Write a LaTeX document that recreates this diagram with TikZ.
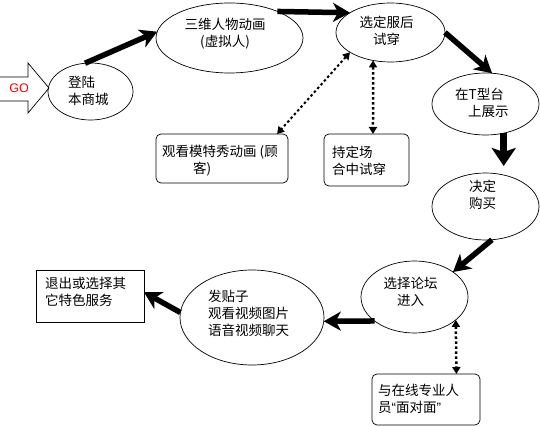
\documentclass[tikz,border=0pt]{standalone}
\usepackage{fontspec}
\newfontfamily\cjk{Noto Sans CJK SC}
\newfontfamily\arialf{Liberation Sans}
\usetikzlibrary{arrows.meta,shapes.geometric,calc}
\begin{document}
\begin{tikzpicture}[x=1pt,y=-1pt,
 ell/.style={draw,ellipse,inner sep=0pt,outer sep=0pt,line width=0.7pt},
 rbox/.style={draw,rounded corners=5pt,inner sep=0pt,outer sep=0pt,line width=0.7pt},
 sbox/.style={draw,inner sep=0pt,outer sep=0pt,line width=0.7pt},
 txt/.style={inner sep=0pt,font=\cjk\fontsize{13.5}{17}\selectfont},
 big/.style={line width=5.5pt,-{Stealth[length=17pt,width=19pt,inset=5pt]}},
 dotarrow/.style={line width=2.5pt,dash pattern=on 2.5pt off 2.5pt,{Triangle[length=7pt,width=8pt]}-{Triangle[length=7pt,width=8pt]}}
]
\useasboundingbox (0,0) rectangle (540,427);
\fill[white] (0,0) rectangle (540,427);

% GO block arrow
\draw[line width=0.7pt] (0,77) -- (28,77) -- (28,63) -- (49,88) -- (28,113) -- (28,101) -- (0,101);
\node[inner sep=0pt,font=\arialf\fontsize{12.5}{14}\selectfont,text=red] (go) at (19,88) {GO};

% ellipses
\node[ell,minimum width=85pt,minimum height=57pt] (e1) at (90.5,91.5) {};
\node[ell,minimum width=147pt,minimum height=70pt] (e2) at (229.5,38) {};
\node[ell,minimum width=109pt,minimum height=59pt] (e3) at (390.5,32.5) {};
\node[ell,minimum width=107pt,minimum height=62pt] (e4) at (485.5,104) {};
\node[ell,minimum width=107pt,minimum height=67pt] (e5) at (485.5,206.5) {};
\node[ell,minimum width=107pt,minimum height=72pt] (e6) at (414.5,297) {};
\node[ell,minimum width=144pt,minimum height=95pt] (e7) at (252,317.5) {};

% boxes
\node[rbox,minimum width=132pt,minimum height=49pt] (b1) at (222,158.5) {};
\node[rbox,minimum width=85pt,minimum height=52pt] (b2) at (366.5,160) {};
\node[sbox,minimum width=108pt,minimum height=52pt] (b3) at (90,296) {};
\node[rbox,minimum width=108pt,minimum height=51pt] (b4) at (426,399.5) {};

% texts
\node[txt,align=left,anchor=west] (t1) at (68,91) {登陆\\本商城};
\node[txt,align=center] (t2) at (225,33.5) {三维人物动画\\(虚拟人)};
\node[txt,align=center] (t3) at (386.5,31) {选定服后\\试穿};
\node[txt,align=left,anchor=west] (t4) at (455,103) {在T型台\\\hspace*{13pt}上展示};
\node[txt,align=center] (t5) at (482.5,194.5) {决定\\购买};
\node[txt,align=center] (t6) at (410.5,291.5) {选择论坛\\进入};
\node[txt,align=left,anchor=west] (t7) at (208,313) {发贴子\\观看视频图片\\语音视频聊天};
\node[txt,align=left,anchor=west] (t8) at (162,160.5) {观看模特秀动画 (顾\\\hspace*{31pt}客)};
\node[txt,align=left,anchor=west] (t9) at (332,160.5) {持定场\\合中试穿};
\node[txt,align=left,anchor=west] (t10) at (45,292) {退出或选择其\\它特色服务};
\node[txt,align=left,anchor=west] (t11) at (378,398.5) {与在线专业人\\员{\arialf “}面对面{\arialf ”}};

% thick arrows
\draw[big] (e1.101) -- (e2.175);
\draw[big] (e2.29) -- (e3.154);
\draw[big] (e3.0) -- (e4.78);
\draw[line width=7pt,-{Stealth[length=18pt,width=24pt,inset=4pt]},shorten >=7pt] (e4.302) -- (e4.302 |- e5.north);
\draw[big] (e5.281) -- (e6.33);
\draw[big] (e6.211) -- (e7.357);
\draw[big] (e7.176) -- (b3.4);

% dotted double arrows
\draw[dotarrow,line width=2pt] (e3.206) -- (b1.24.5);
\draw[dotarrow] (e3.238) -- (b2.76);
\draw[dotarrow] (e6.331) -- (b4.40);
\end{tikzpicture}
\end{document}
